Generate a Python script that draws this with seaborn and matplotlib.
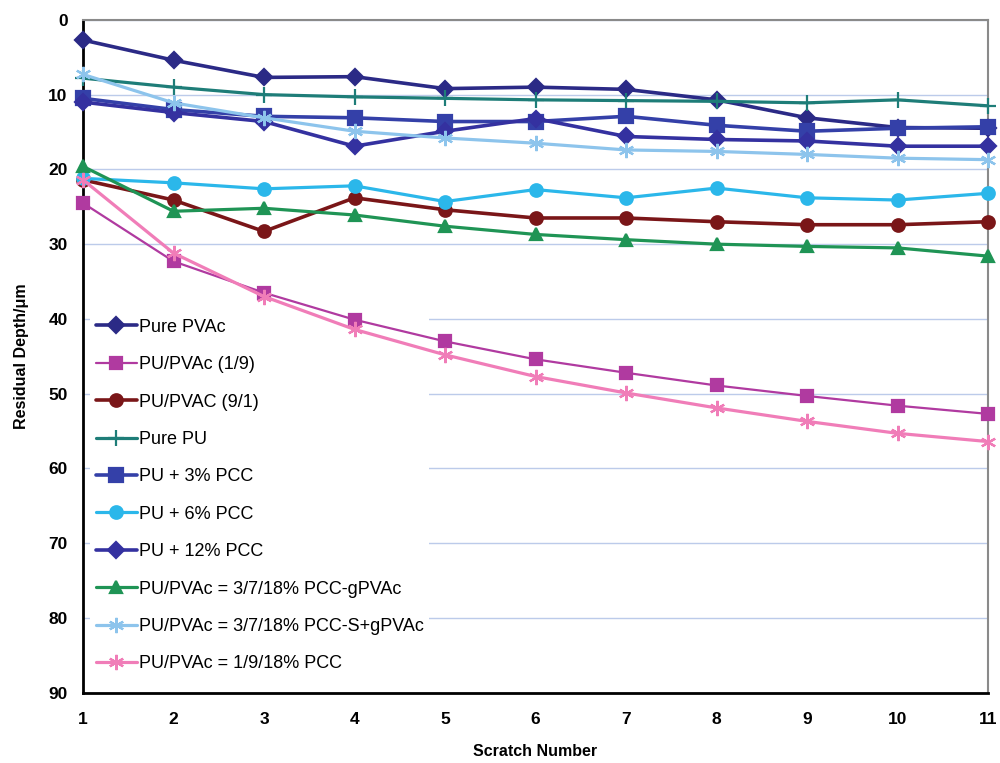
import matplotlib
matplotlib.use("Agg")
import matplotlib.pyplot as plt
import seaborn as sns
import pandas as pd

scratch = list(range(1, 12))

pure_pvac = [2.7, 5.4, 7.7, 7.6, 9.2, 9.0, 9.3, 10.7, 13.1, 14.4, 14.5]
pu_pvac_19 = [24.5, 32.3, 36.5, 40.1, 43.0, 45.4, 47.2, 48.9, 50.3, 51.6, 52.7]
pu_pvac_91 = [21.4, 24.1, 28.3, 23.8, 25.4, 26.5, 26.5, 27.0, 27.4, 27.4, 27.0]
pure_pu = [7.8, 9.0, 10.0, 10.3, 10.5, 10.7, 10.8, 10.9, 11.1, 10.7, 11.5]
pu_3pcc = [10.5, 12.0, 12.9, 13.1, 13.6, 13.6, 12.9, 14.1, 14.9, 14.5, 14.3]
pu_6pcc = [21.2, 21.8, 22.6, 22.2, 24.3, 22.7, 23.8, 22.5, 23.8, 24.1, 23.2]
pu_12pcc = [11.0, 12.4, 13.6, 16.9, 14.9, 13.2, 15.6, 16.0, 16.2, 16.9, 16.9]
gpvac = [19.6, 25.6, 25.2, 26.1, 27.6, 28.7, 29.4, 30.0, 30.3, 30.5, 31.6]
s_gpvac = [7.3, 11.1, 13.1, 14.9, 15.8, 16.5, 17.4, 17.6, 18.0, 18.5, 18.7]
pcc_19 = [21.4, 31.2, 37.0, 41.4, 44.8, 47.7, 49.9, 51.9, 53.7, 55.3, 56.4]

names = ["Pure PVAc", "PU/PVAc (1/9)", "PU/PVAC (9/1)", "Pure PU", "PU + 3% PCC",
         "PU + 6% PCC", "PU + 12% PCC", "PU/PVAc = 3/7/18% PCC-gPVAc",
         "PU/PVAc = 3/7/18% PCC-S+gPVAc", "PU/PVAc = 1/9/18% PCC"]
series = [pure_pvac, pu_pvac_19, pu_pvac_91, pure_pu, pu_3pcc,
          pu_6pcc, pu_12pcc, gpvac, s_gpvac, pcc_19]
colors = ["#2B2A86", "#B03AA0", "#7A1618", "#1E7D78", "#3440A8",
          "#2BB7EA", "#3431A0", "#1F9455", "#8DC4EC", "#F07DB8"]
markers = ["D", "s", "o", "+", "s", "o", "D", "^", (6, 2, 0), (6, 2, 0)]
msizes = [8, 9, 9, 11, 10, 9, 8, 9, 11, 11]
lwidths = [2.6, 1.6, 2.6, 2.3, 2.6, 2.3, 2.6, 2.3, 2.3, 2.3]

sns.set_style("white")
plt.rcParams["font.family"] = ["Liberation Sans", "DejaVu Sans"]
plt.rcParams["text.color"] = "black"
plt.rcParams["axes.labelcolor"] = "black"
plt.rcParams["xtick.color"] = "black"
plt.rcParams["ytick.color"] = "black"

fig = plt.figure(figsize=(10, 7.63), dpi=100)
ax = fig.add_axes([0.083, 0.092, 0.905, 0.882])

for name, vals, c, m, ms, lw in zip(names, series, colors, markers, msizes, lwidths):
    df = pd.DataFrame({"x": scratch, "y": vals})
    sns.lineplot(data=df, x="x", y="y", ax=ax, color=c, marker=m, markersize=ms,
                 linewidth=lw, markeredgecolor=c, markeredgewidth=1.6,
                 label=name, estimator=None, errorbar=None, clip_on=False, zorder=3)

ax.set_xlim(1, 11)
ax.set_ylim(90, 0)
ax.set_xticks(scratch)
ax.set_yticks(range(0, 91, 10))
ax.grid(axis="y", color="#BCCBEA", linewidth=1)
ax.set_axisbelow(True)

for s in ["left", "bottom"]:
    ax.spines[s].set_color("black")
    ax.spines[s].set_linewidth(2)
for s in ["top", "right"]:
    ax.spines[s].set_color("#8A8A8A")
    ax.spines[s].set_linewidth(1.5)

ax.tick_params(axis="y", direction="out", length=5, width=1.5, labelsize=12.5, pad=6)
ax.tick_params(axis="x", direction="inout", length=8, width=1.5, labelsize=12.5, pad=10)
for lab in ax.get_xticklabels() + ax.get_yticklabels():
    lab.set_fontweight("bold")

ax.set_xlabel("Scratch Number", fontsize=11.5, fontweight="bold", labelpad=12)
ax.set_ylabel("Residual Depth/\u03bcm", fontsize=11.5, fontweight="bold", labelpad=14)

leg = ax.legend(loc="upper left", bbox_to_anchor=(0.002, 0.572), fontsize=13,
                frameon=True, facecolor="white", edgecolor="none", framealpha=1,
                handlelength=2.3, handletextpad=0.1, labelspacing=1.13,
                borderaxespad=0.3, borderpad=0.3)
leg.set_zorder(1)
for t in leg.get_texts():
    t.set_color("black")

fig.savefig("out.png", dpi=100)
